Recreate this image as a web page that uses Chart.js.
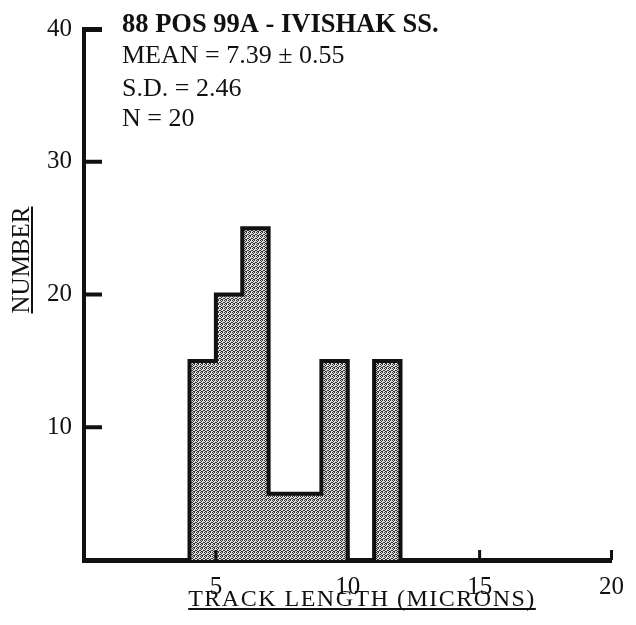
<!DOCTYPE html>
<html>
<head>
<meta charset="utf-8">
<script src="https://cdn.jsdelivr.net/npm/chart.js@4.4.0/dist/chart.umd.min.js"></script>
<style>
body { margin: 0; background: #fff; }
</style>
</head>
<body>
<canvas id="histChart" width="636" height="625"></canvas>
<script>
// track length bins (microns) and counts
let binStart = [4, 5, 6, 7, 8, 9, 11];
let binEnd = [5, 6, 7, 8, 9, 10, 12];
let counts = [15, 20, 25, 5, 5, 15, 15];
let xTicks = [5, 10, 15, 20];
let yTicks = [10, 20, 30, 40];
let infoLines = ['88 POS 99A - IVISHAK SS.', 'MEAN = 7.39 \u00b1 0.55', 'S.D. = 2.46', 'N = 20'];
let xTitle = 'TRACK LENGTH (MICRONS)';
let yTitle = 'NUMBER';

const ink = '#111';
const serif = "'Liberation Serif', 'DejaVu Serif', serif";

// outline of the histogram: runs of touching bins, broken by a null
let outline = [];
for (let i = 0; i < counts.length; i++) {
	if (i == 0 || binStart[i] != binEnd[i - 1]) {
		if (i > 0) {
			outline.push({x: binEnd[i - 1], y: 0});
			outline.push({x: binEnd[i - 1], y: null});
		}
		outline.push({x: binStart[i], y: 0});
	}
	outline.push({x: binStart[i], y: counts[i]});
}
outline.push({x: binEnd[counts.length - 1], y: 0});

// stipple fill like the printed screen
function makeStipple() {
	let c = document.createElement('canvas');
	c.width = 4; c.height = 4;
	let g = c.getContext('2d');
	g.fillStyle = '#dcdcdc';
	g.fillRect(0, 0, 4, 4);
	g.fillStyle = '#333';
	[[0, 0], [2, 0], [1, 1], [3, 2], [0, 2], [2, 3], [1, 3]].forEach(p => g.fillRect(p[0], p[1], 1, 1));
	return g.createPattern(c, 'repeat');
}

// inward tick marks
let tickStubs = {
	id: 'tickStubs',
	afterDraw(chart) {
		let ctx = chart.ctx, a = chart.chartArea;
		let x = chart.scales.x, y = chart.scales.y;
		ctx.save();
		ctx.fillStyle = ink;
		yTicks.forEach(v => {
			let py = y.getPixelForValue(v);
			ctx.fillRect(a.left, py - 2, 18, v == 40 ? 5 : 4);
		});
		xTicks.forEach(v => {
			let px = x.getPixelForValue(v);
			ctx.fillRect(px - 1.5, a.bottom - 10, 3, 10);
		});
		ctx.restore();
	}
};

// info block and underlined axis titles
let labels = {
	id: 'labels',
	afterDraw(chart) {
		let ctx = chart.ctx;
		ctx.save();
		ctx.fillStyle = ink;
		ctx.strokeStyle = ink;
		ctx.textBaseline = 'alphabetic';
		ctx.textAlign = 'left';
		let base = [32, 63, 96, 126];
		infoLines.forEach((t, i) => {
			ctx.font = (i == 0 ? 'bold 26.5px ' : '26px ') + serif;
			ctx.fillText(t, 122, base[i]);
		});

		// x title
		ctx.font = '24px ' + serif;
		ctx.letterSpacing = '1.5px';
		let w = ctx.measureText(xTitle).width;
		let cx = 362;
		ctx.fillText(xTitle, cx - w / 2, 606);
		ctx.lineWidth = 2;
		ctx.beginPath();
		ctx.moveTo(cx - w / 2, 609);
		ctx.lineTo(cx + w / 2, 609);
		ctx.stroke();

		// y title
		ctx.letterSpacing = '0px';
		ctx.font = '25px ' + serif;
		ctx.translate(29, 260);
		ctx.rotate(-Math.PI / 2);
		let wy = ctx.measureText(yTitle).width;
		ctx.fillText(yTitle, -wy / 2, 0);
		ctx.beginPath();
		ctx.moveTo(-wy / 2, 3);
		ctx.lineTo(wy / 2, 3);
		ctx.stroke();
		ctx.restore();
	}
};

var ctx = document.getElementById('histChart').getContext('2d');
var histChart = new Chart(ctx, {
	type: 'line',
	data: {
		datasets: [{
			data: outline,
			stepped: 'before',
			fill: 'origin',
			spanGaps: false,
			backgroundColor: makeStipple(),
			borderColor: ink,
			borderWidth: 4,
			borderJoinStyle: 'miter',
			borderCapStyle: 'butt',
			pointRadius: 0
		}]
	},
	options: {
		responsive: false,
		animation: false,
		layout: {
			padding: {top: 29, right: 18, left: 0, bottom: 0}
		},
		plugins: {
			legend: {display: false},
			tooltip: {enabled: false}
		},
		scales: {
			x: {
				type: 'linear',
				min: 0,
				max: 20,
				afterBuildTicks: s => { s.ticks = xTicks.map(v => ({value: v})); },
				afterFit: s => { s.height = 65; },
				grid: {display: false, drawTicks: false},
				border: {display: true, color: ink, width: 5},
				ticks: {
					color: ink,
					padding: 12,
					maxRotation: 0,
					autoSkip: false,
					font: {family: serif, size: 25}
				}
			},
			y: {
				min: 0,
				max: 40,
				afterBuildTicks: s => { s.ticks = yTicks.map(v => ({value: v})); },
				afterFit: s => { s.width = 84; },
				grid: {display: false, drawTicks: false},
				border: {display: true, color: ink, width: 4},
				ticks: {
					color: ink,
					padding: 12,
					autoSkip: false,
					font: {family: serif, size: 25}
				}
			}
		}
	},
	plugins: [tickStubs, labels]
});
</script>
</body>
</html>
